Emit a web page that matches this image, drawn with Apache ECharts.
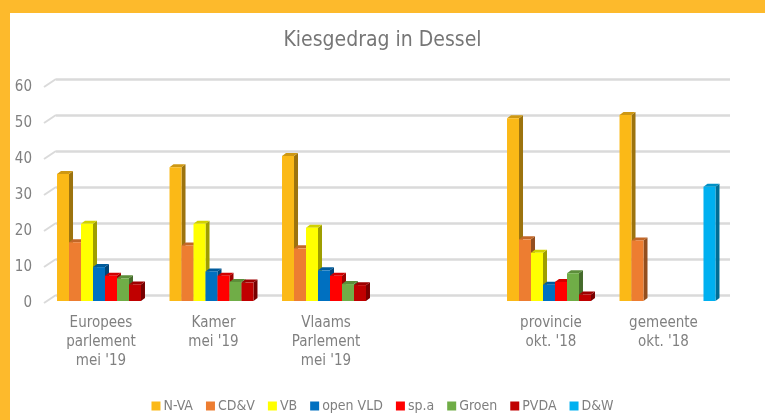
<!DOCTYPE html>
<html><head><meta charset="utf-8">
<script src="https://cdn.jsdelivr.net/npm/echarts@6/dist/echarts.min.js"></script>
<style>html,body{margin:0;padding:0;background:#fff}#c{width:765px;height:420px}</style>
</head><body><div id="c"></div>
<script>
// ---- data ----
const categories = ["Europees\nparlement\nmei '19", "Kamer\nmei '19", "Vlaams\nParlement\nmei '19", "", "provincie\nokt. '18", "gemeente\nokt. '18"];
const parties = ['N-VA', 'CD&V', 'VB', 'open VLD', 'sp.a', 'Groen', 'PVDA', 'D&W'];
const nva     = [35.2, 37.1, 40.2, null, 50.7, 51.6];
const cdv     = [16.3, 15.4, 14.6, null, 17.1, 16.8];
const vb      = [21.4, 21.4, 20.3, null, 13.4, null];
const openvld = [9.4, 8.2, 8.5, null, 4.5, null];
const spa     = [7.0, 7.0, 7.0, null, 5.3, null];
const groen   = [6.3, 5.3, 4.7, null, 7.7, null];
const pvda    = [4.6, 5.1, 4.4, null, 1.8, null];
const dw      = [null, null, null, null, null, 31.7];
const yTicks  = [0, 10, 20, 30, 40, 50, 60];

const seriesValues = [nva, cdv, vb, openvld, spa, groen, pvda, dw];
const colors = ['#FBB917', '#ED7D31', '#FFFF00', '#0070C0', '#FF0000', '#70AD47', '#C00000', '#00B0F0'];

const FONT = "'Liberation Sans Narrow', 'DejaVu Sans Condensed', 'Liberation Sans', sans-serif";
const DX = 4, DY = -3, GROUP = 0.853;

function shade(hex, f) {
  const n = parseInt(hex.slice(1), 16);
  const r = Math.round(((n >> 16) & 255) * f), g = Math.round(((n >> 8) & 255) * f), b = Math.round((n & 255) * f);
  return 'rgb(' + r + ',' + g + ',' + b + ')';
}

function barSeries(si) {
  const col = colors[si];
  return {
    name: parties[si], type: 'custom', xAxisIndex: 1, yAxisIndex: 1,
    itemStyle: { color: col },
    data: seriesValues[si].map((v, i) => [i, v]).filter(d => d[1] != null),
    renderItem: function (params, api) {
      const top = api.coord([api.value(0), api.value(1)]);
      const base = api.coord([api.value(0), 0]);
      const band = api.size([1, 0])[0];
      const gw = band * GROUP, bw = gw / parties.length;
      const x0 = top[0] - gw / 2 + si * bw, x1 = x0 + bw;
      const yt = top[1], yb = base[1];
      return { type: 'group', children: [
        { type: 'polygon', shape: { points: [[x1, yt], [x1 + DX, yt + DY], [x1 + DX, yb + DY], [x1, yb]] }, style: { fill: shade(col, 0.62) } },
        { type: 'polygon', shape: { points: [[x0, yt], [x0 + DX, yt + DY], [x1 + DX, yt + DY], [x1, yt]] }, style: { fill: shade(col, 0.82) } },
        { type: 'rect', shape: { x: x0, y: yt, width: bw, height: yb - yt }, style: { fill: col } }
      ] };
    }
  };
}

const series = parties.map((p, i) => barSeries(i));
// slanted floor/wall ticks joining the front labels to the back grid lines
series.push({
  type: 'custom', xAxisIndex: 2, yAxisIndex: 2, silent: true, z: 1,
  data: yTicks.map(t => [0, t]),
  renderItem: function (params, api) {
    const p = api.coord([0, api.value(1)]);
    const x = params.coordSys.x;
    return { type: 'line', shape: { x1: x, y1: p[1], x2: x + 12, y2: p[1] - 8 }, style: { stroke: '#dadada', lineWidth: 2 } };
  }
});

const chart = echarts.init(document.getElementById('c'), null, { renderer: 'canvas' });
chart.setOption({
  animation: false,
  backgroundColor: '#fff',
  title: { text: 'Kiesgedrag in Dessel', left: 'center', top: 25, textStyle: { fontFamily: FONT, fontSize: 21, fontWeight: 'normal', color: '#767676' } },
  legend: { data: parties, left: 'center', top: 394, icon: 'rect', itemWidth: 9, itemHeight: 9, itemGap: 13,
    textStyle: { fontFamily: FONT, fontSize: 14, color: '#7f7f7f', padding: [0, 0, 0, -2] } },
  graphic: [
    { type: 'rect', shape: { x: 0, y: 0, width: 765, height: 13 }, style: { fill: '#FDBA2C' }, z: 100 },
    { type: 'rect', shape: { x: 0, y: 0, width: 10, height: 420 }, style: { fill: '#FDBA2C' }, z: 100 }
  ],
  grid: [
    { left: 56, right: 35, top: 79, bottom: 124.7, containLabel: false },
    { left: 48.75, right: 41.25, top: 84.7, bottom: 119, containLabel: false },
    { left: 44, right: 41, top: 87, bottom: 117, containLabel: false }
  ],
  xAxis: [
    { gridIndex: 0, type: 'category', data: categories, show: false },
    { gridIndex: 1, type: 'category', data: categories, axisLine: { show: false }, axisTick: { show: false },
      axisLabel: { interval: 0, margin: 13, fontFamily: FONT, fontSize: 15, lineHeight: 19, color: '#808080', padding: [0, 8, 0, 0] } },
    { gridIndex: 2, type: 'category', data: categories, show: false }
  ],
  yAxis: [
    { gridIndex: 0, type: 'value', min: 0, max: 60, interval: 10, axisLabel: { show: false }, axisLine: { show: false }, axisTick: { show: false },
      splitLine: { lineStyle: { color: '#dadada', width: 2.5 } } },
    { gridIndex: 1, type: 'value', min: 0, max: 60, interval: 10, show: false, splitLine: { show: false } },
    { gridIndex: 2, type: 'value', min: 0, max: 60, interval: 10, axisLine: { show: false }, axisTick: { show: false }, splitLine: { show: false },
      axisLabel: { margin: 12, fontFamily: FONT, fontSize: 15, color: '#808080' } }
  ],
  series: series
});
</script>
</body></html>
